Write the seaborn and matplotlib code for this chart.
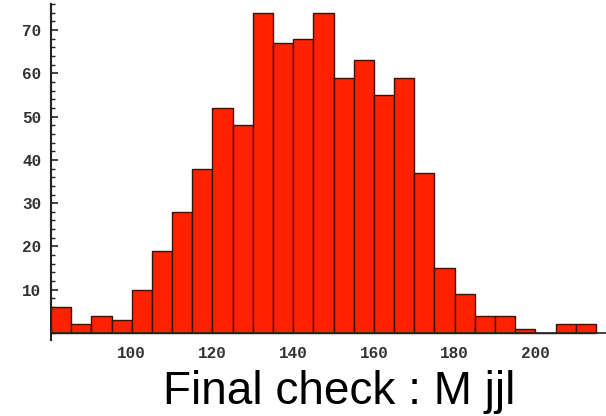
import numpy as np
import pandas as pd
import matplotlib
matplotlib.use('Agg')
import matplotlib.pyplot as plt
import seaborn as sns
from matplotlib.ticker import MultipleLocator

# bin left edges (width 5) and counts
bin_left = list(range(80, 215, 5))
counts = [6, 2, 4, 3, 10, 19, 28, 38, 52, 48, 74, 67, 68, 74,
          59, 63, 55, 59, 37, 15, 9, 4, 4, 1, 0, 2, 2]
x_ticks = [100, 120, 140, 160, 180, 200]
y_ticks = [10, 20, 30, 40, 50, 60, 70]
title = 'Final check : M jjl'

df = pd.DataFrame({'value': bin_left, 'count': counts})

sns.set_style('white')

fig = plt.figure(figsize=(6.06, 4.16), dpi=100)
ax = fig.add_axes([51 / 606, 76 / 416, 1 - 51 / 606, 336 / 416])

sns.histplot(data=df, x='value', weights='count', binwidth=5, binrange=(80, 215), ax=ax,
             color='#ff2200', alpha=1, edgecolor='#3a1208', linewidth=1.0)

ax.set_xlim(80, 217.5)
ax.set_ylim(-1.6, 76)
ax.set_xlabel('')
ax.set_ylabel('')

for s in ['top', 'right']:
    ax.spines[s].set_visible(False)
ax.spines['bottom'].set_position(('data', 0))
ax.spines['bottom'].set_linewidth(1.2)
ax.spines['left'].set_linewidth(1.5)
ax.spines['bottom'].set_color('#222222')
ax.spines['left'].set_color('#222222')

ax.set_xticks(x_ticks)
ax.set_yticks(y_ticks)
ax.yaxis.set_minor_locator(MultipleLocator(2))
ax.tick_params(axis='x', length=0, pad=9)
ax.tick_params(axis='y', which='major', direction='in', length=5, width=1.2, color='#222222', left=True, pad=7)
ax.tick_params(axis='y', which='minor', direction='in', length=3, width=1.0, color='#222222', left=True)
for lab in ax.get_xticklabels() + ax.get_yticklabels():
    lab.set_fontfamily('Liberation Mono')
    lab.set_fontweight('bold')
    lab.set_fontsize(11.5)
    lab.set_color('#333333')

fig.text(0.559, 0.029, title, ha='center', va='baseline',
         fontsize=33, family='Liberation Sans', color='black')

fig.savefig('out.png', dpi=100)
